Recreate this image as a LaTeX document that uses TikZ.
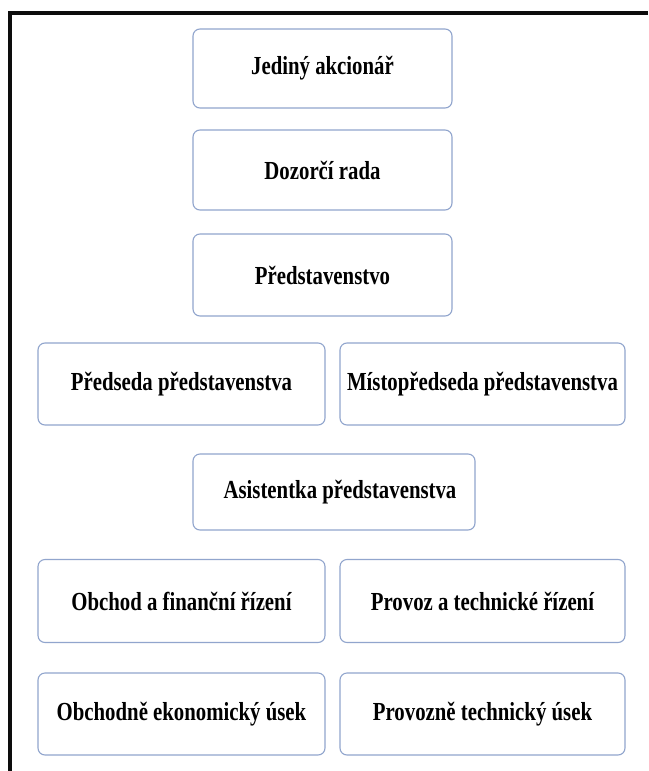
\documentclass[tikz,border=0pt]{standalone}
\usepackage{fontspec}
\setmainfont{Liberation Serif}[FakeStretch=0.8]
\definecolor{boxblue}{RGB}{145,165,205}
\definecolor{framegray}{gray}{0.05}
\usetikzlibrary{positioning}

\begin{document}
\begin{tikzpicture}[x=1pt,y=-1pt,
    orgbox/.style={draw=boxblue,line width=1.1pt,rounded corners=7pt,fill=white,
      minimum width=287pt,minimum height=82pt,inner sep=2pt,
      font=\fontsize{26}{28}\selectfont\bfseries},
    topbox/.style={orgbox,minimum width=259pt}]
        \useasboundingbox (0,0) rectangle (648,771);
        \fill[white] (0,0) rectangle (648,771);
        % outer frame
        \draw[line width=4pt,draw=framegray] (10,771)--(10,12.5)--(648,12.5);
        % vedeni
        \node[topbox,minimum height=79pt] (akcionar) at (322.5,68.5) {Jediný akcionář};
        \node[topbox,minimum height=80pt] (dozor) at (322.5,170) {Dozorčí rada};
        \node[topbox] (predst) at (322.5,275) {Představenstvo};
        \node[orgbox] (predseda) at (181.5,384) {Předseda představenstva};
        \node[orgbox,minimum width=285pt] (misto) at (482.5,384) {Místopředseda představenstva};
        \node[orgbox,minimum width=282pt,minimum height=76pt] (asist) at (334,492) {\hspace{12pt}Asistentka představenstva};
        % useky
        \node[orgbox,minimum height=83pt] (obchod) at (181.5,601) {Obchod a finanční řízení};
        \node[orgbox,minimum width=285pt,minimum height=83pt] (provoz) at (482.5,601) {Provoz a technické řízení};
        \node[orgbox] (obchodne) at (181.5,714) {Obchodně ekonomický úsek};
        \node[orgbox,minimum width=285pt] (provozne) at (482.5,714) {Provozně technický úsek};
      \end{tikzpicture}
\end{document}
